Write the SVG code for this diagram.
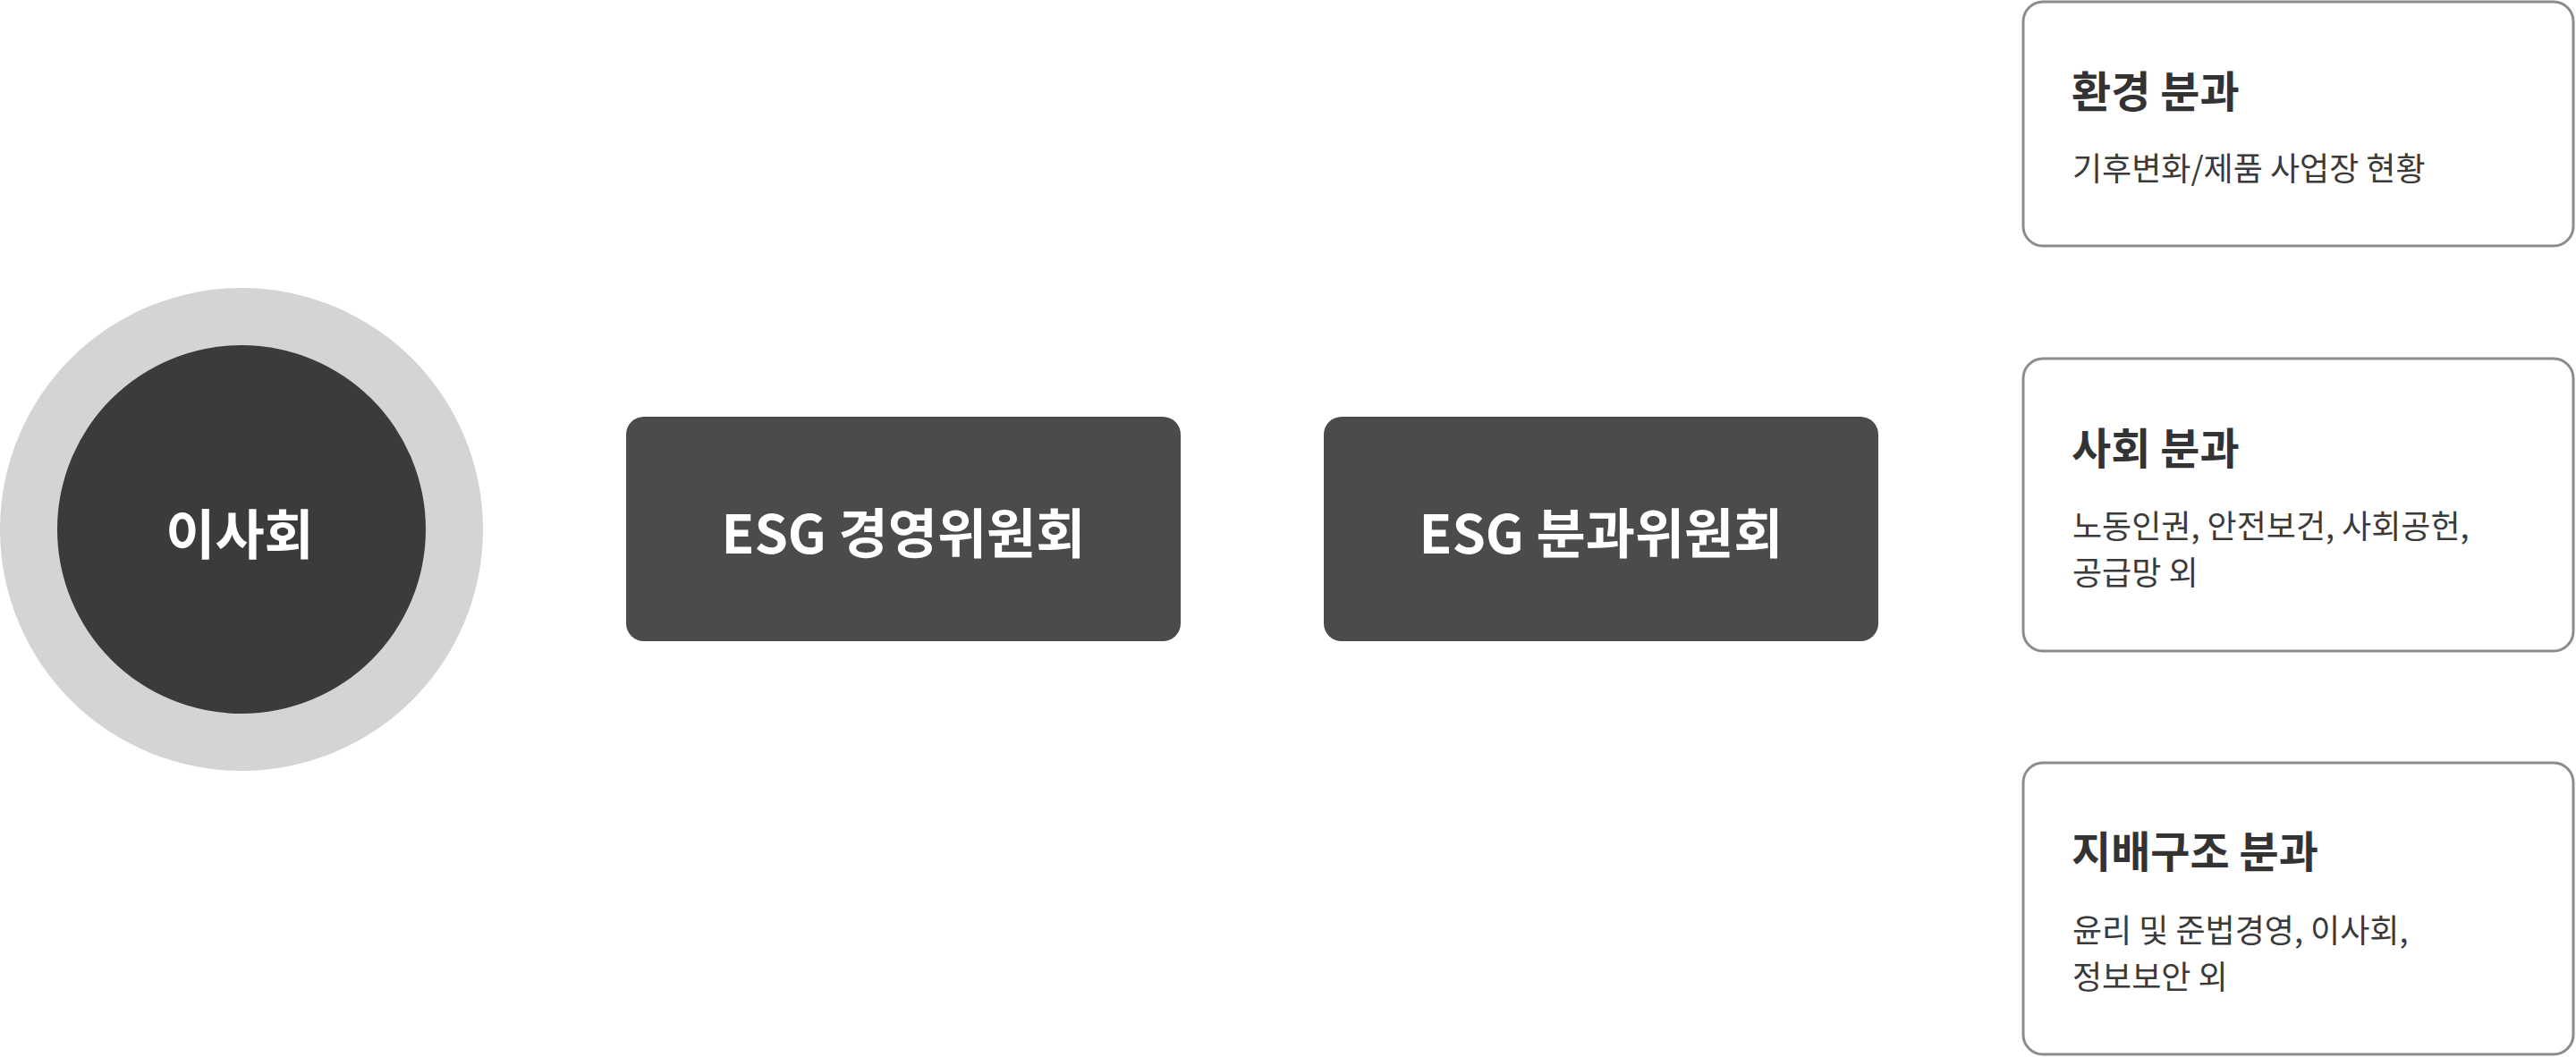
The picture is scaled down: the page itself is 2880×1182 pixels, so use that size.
<svg xmlns="http://www.w3.org/2000/svg" width="2880" height="1182" viewBox="0 0 2880 1182">
<style>
text { font-family: "Noto Sans CJK KR", "Noto Sans", sans-serif; }
.dark { fill: #4c4a4b; }
.white { fill: #ffffff; font-size: 60px; font-weight: 700; text-anchor: middle; }
.card { fill: #ffffff; stroke: #8c8c8c; stroke-width: 3; }
.title { fill: #333333; font-size: 48px; font-weight: 700; }
.sub { fill: #3a3a3a; font-size: 36px; font-weight: 400; }
</style>
<rect width="2880" height="1182" fill="#ffffff"/>
<g id="connectors"></g>
<g id="board">
  <circle cx="270" cy="592" r="270" fill="#d4d4d4"/>
  <circle cx="270" cy="592" r="206" fill="#3b3b3b"/>
  <text class="white" x="268" y="620">이사회</text>
</g>
<g id="esg-management">
  <rect class="dark" x="700" y="466" width="620" height="251" rx="20"/>
  <text class="white" x="1010" y="619">ESG 경영위원회</text>
</g>
<g id="esg-subcommittee">
  <rect class="dark" x="1480" y="466" width="620" height="251" rx="20"/>
  <text class="white" x="1790" y="619">ESG 분과위원회</text>
</g>
<g id="env">
  <rect class="card" x="2262" y="2" width="615" height="273" rx="22"/>
  <text class="title" x="2316" y="120">환경 분과</text>
  <text class="sub" x="2317" y="202">기후변화/제품 사업장 현황</text>
</g>
<g id="social">
  <rect class="card" x="2262" y="401" width="615" height="327" rx="22"/>
  <text class="title" x="2316" y="519">사회 분과</text>
  <text class="sub" x="2317" y="602">노동인권, 안전보건, 사회공헌,</text>
  <text class="sub" x="2317" y="654">공급망 외</text>
</g>
<g id="governance">
  <rect class="card" x="2262" y="853" width="615" height="326" rx="22"/>
  <text class="title" x="2316" y="970">지배구조 분과</text>
  <text class="sub" x="2317" y="1054">윤리 및 준법경영, 이사회,</text>
  <text class="sub" x="2317" y="1106">정보보안 외</text>
</g>
</svg>
